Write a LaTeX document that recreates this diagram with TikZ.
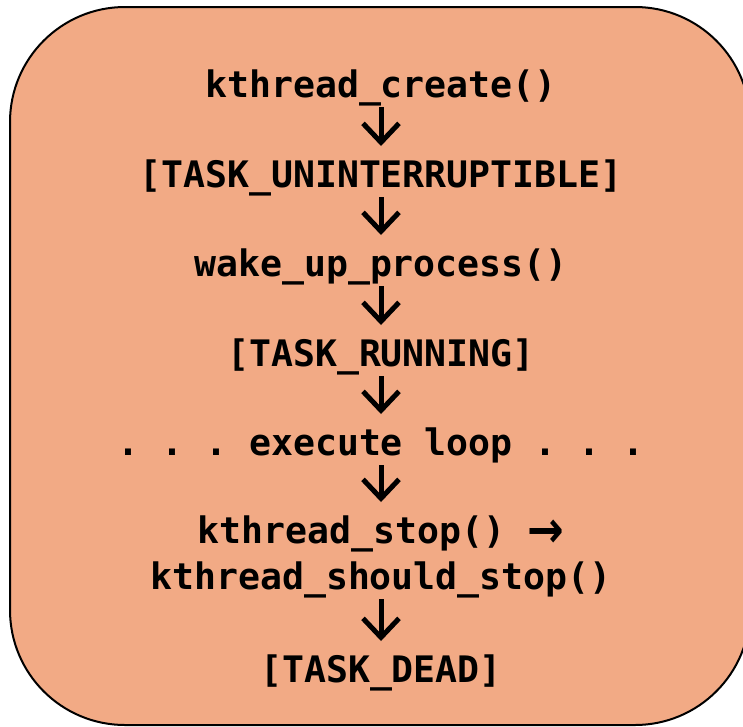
\documentclass[tikz,border=0pt]{standalone}
\usepackage{fontspec}
\usepackage{graphicx}
\setmonofont{DejaVu Sans Mono}
\newfontfamily\arrowfont{DejaVu Sans}
\usetikzlibrary{arrows.meta}
\definecolor{peach}{HTML}{F2AA85}
\newcommand{\thenarrow}{\raisebox{-4.3pt}{\scalebox{1.2}[1.4]{\arrowfont →}}}
\begin{document}
\begin{tikzpicture}[x=1pt,y=-1pt,
  txt/.style={anchor=base, inner sep=0pt,
    font=\ttfamily\bfseries\fontsize{36.5}{40}\selectfont},
  flow/.style={line width=5pt,
    -{Straight Barb[length=19pt,width=36pt,line width=5pt,sharp]},
    shorten <=10pt, shorten >=41pt}]
\useasboundingbox (0,0) rectangle (743,726);
% rounded panel, its right side runs past the edge
\begin{scope}
  \clip (0,0) rectangle (743,726);
  \draw[line width=2pt, fill=peach, rounded corners=115pt]
    (10,7) rectangle (750,725);
\end{scope}
% lifecycle steps
\node[txt] (create) at (381,97)  {kthread\_create()};
\node[txt] (unint)  at (381,187) {[TASK\_UNINTERRUPTIBLE]};
\node[txt] (wake)   at (381,276) {wake\_up\_process()};
\node[txt] (run)    at (381,366) {[TASK\_RUNNING]};
\node[txt] (loop)   at (381,455) {.\ .\ .\ execute loop .\ .\ .};
\node[txt] (stop)   at (381,543) {kthread\_stop() \thenarrow};
\node[txt] (should) at (381,589) {kthread\_should\_stop()};
\node[txt] (dead)   at (381,682) {[TASK\_DEAD]};
% transitions
\draw[flow] (create.base) -- (unint.base);
\draw[flow] (unint.base)  -- (wake.base);
\draw[flow] (wake.base)   -- (run.base);
\draw[flow] (run.base)    -- (loop.base);
\draw[flow] (loop.base)   -- (stop.base);
\draw[flow] (should.base) -- (dead.base);
\end{tikzpicture}
\end{document}
